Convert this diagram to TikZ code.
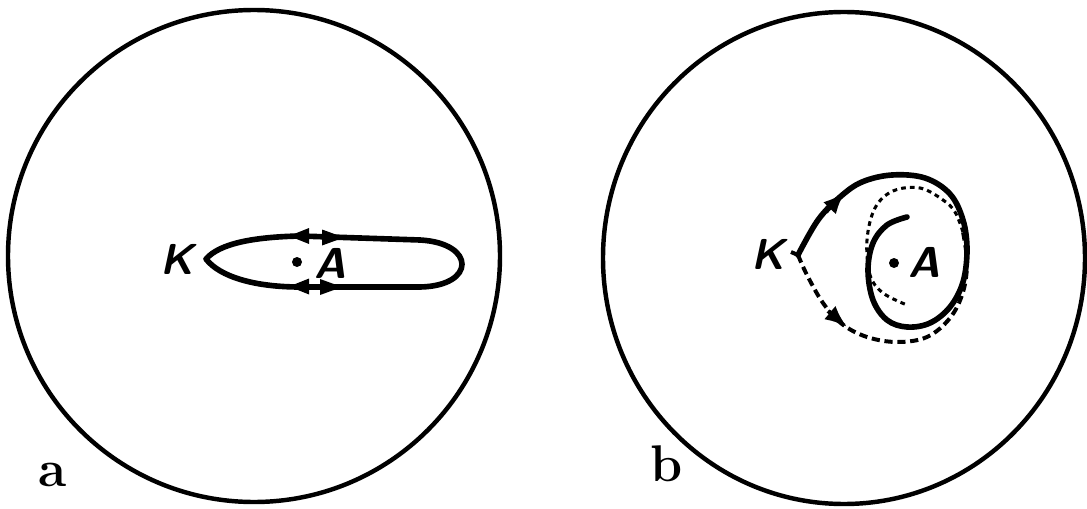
\documentclass[tikz,border=0pt]{standalone}
\usetikzlibrary{arrows.meta}
\begin{document}
\begin{tikzpicture}[x=0.03cm,y=-0.03cm,
  rim/.style={line width=3.8pt},
  path/.style={line width=4.8pt,line cap=round,line join=round},
  dpath/.style={line width=3.4pt,dash pattern=on 7pt off 4pt,line cap=butt},
  ddot/.style={line width=2.6pt,dash pattern=on 4pt off 3.5pt},
  lbl/.style={font=\fontsize{37}{37}\selectfont\sffamily\bfseries\slshape},
  sub/.style={font=\fontsize{44}{44}\selectfont\bfseries},
  tip/.style={-{Latex[length=19pt,width=15pt]},line width=3.4pt}]
\useasboundingbox (0,0) rectangle (1087,509);
% circles
\node (ca) at (254,256) {};
\draw[rim] (ca.center) circle[radius=246];
\node (cb) at (844,258) {};
\draw[rim] (cb.center) ellipse[x radius=241,y radius=246];
% panel a
\coordinate (Ka) at (206,259);
\draw[path] (Ka) .. controls (220,243) and (255,237) .. (300,236)
  -- (420,240) .. controls (476,243) and (476,286) .. (420,287)
  -- (300,287) .. controls (255,287) and (220,277) .. (Ka);
\fill (289,236) -- (309,228) -- (309,244) -- cycle;
\fill (344,237.5) -- (322,229.5) -- (322,245.5) -- cycle;
\fill (289,286.5) -- (309,278.5) -- (309,294.5) -- cycle;
\fill (342,287) -- (320,279) -- (320,295) -- cycle;
\node[lbl] (K1) at (177,259) {K};
\fill (297,262) circle[radius=5];
\node[lbl] (A1) at (330,263) {A};
\node[sub] (la) at (53,475) {a};
% panel b
\coordinate (Kb) at (798,255);
\draw[path] plot[smooth,tension=0.6] coordinates {(798,255) (818,220) (840,197) (862,182) (892,175) (925,178) (950,194) (963,220) (967,250) (963,282) (950,307) (930,323) (907,327) (887,320) (873,300) (868,270) (873,243) (887,225) (907,217)};
\draw[dpath] plot[smooth,tension=0.6] coordinates {(798,255) (807,275) (823,303) (842,324) (867,337) (897,342) (927,337) (950,318) (963,292) (967,262) (963,232)};
\draw[ddot] plot[smooth,tension=0.6] coordinates {(963,232) (955,212) (943,200) (920,188) (893,191) (875,208) (867,240) (870,275) (883,293) (907,305)};
\draw[line width=3.4pt] (791,252) -- (Kb);
\draw[tip] (826,212) -- (845,192);
\draw[tip] (828,311) -- (847,327);
\node[lbl] (K2) at (768,254) {K};
\fill (894,263) circle[radius=5];
\node[lbl] (A2) at (924,262) {A};
\node[sub] (lb) at (667,464) {b};
\end{tikzpicture}
\end{document}
